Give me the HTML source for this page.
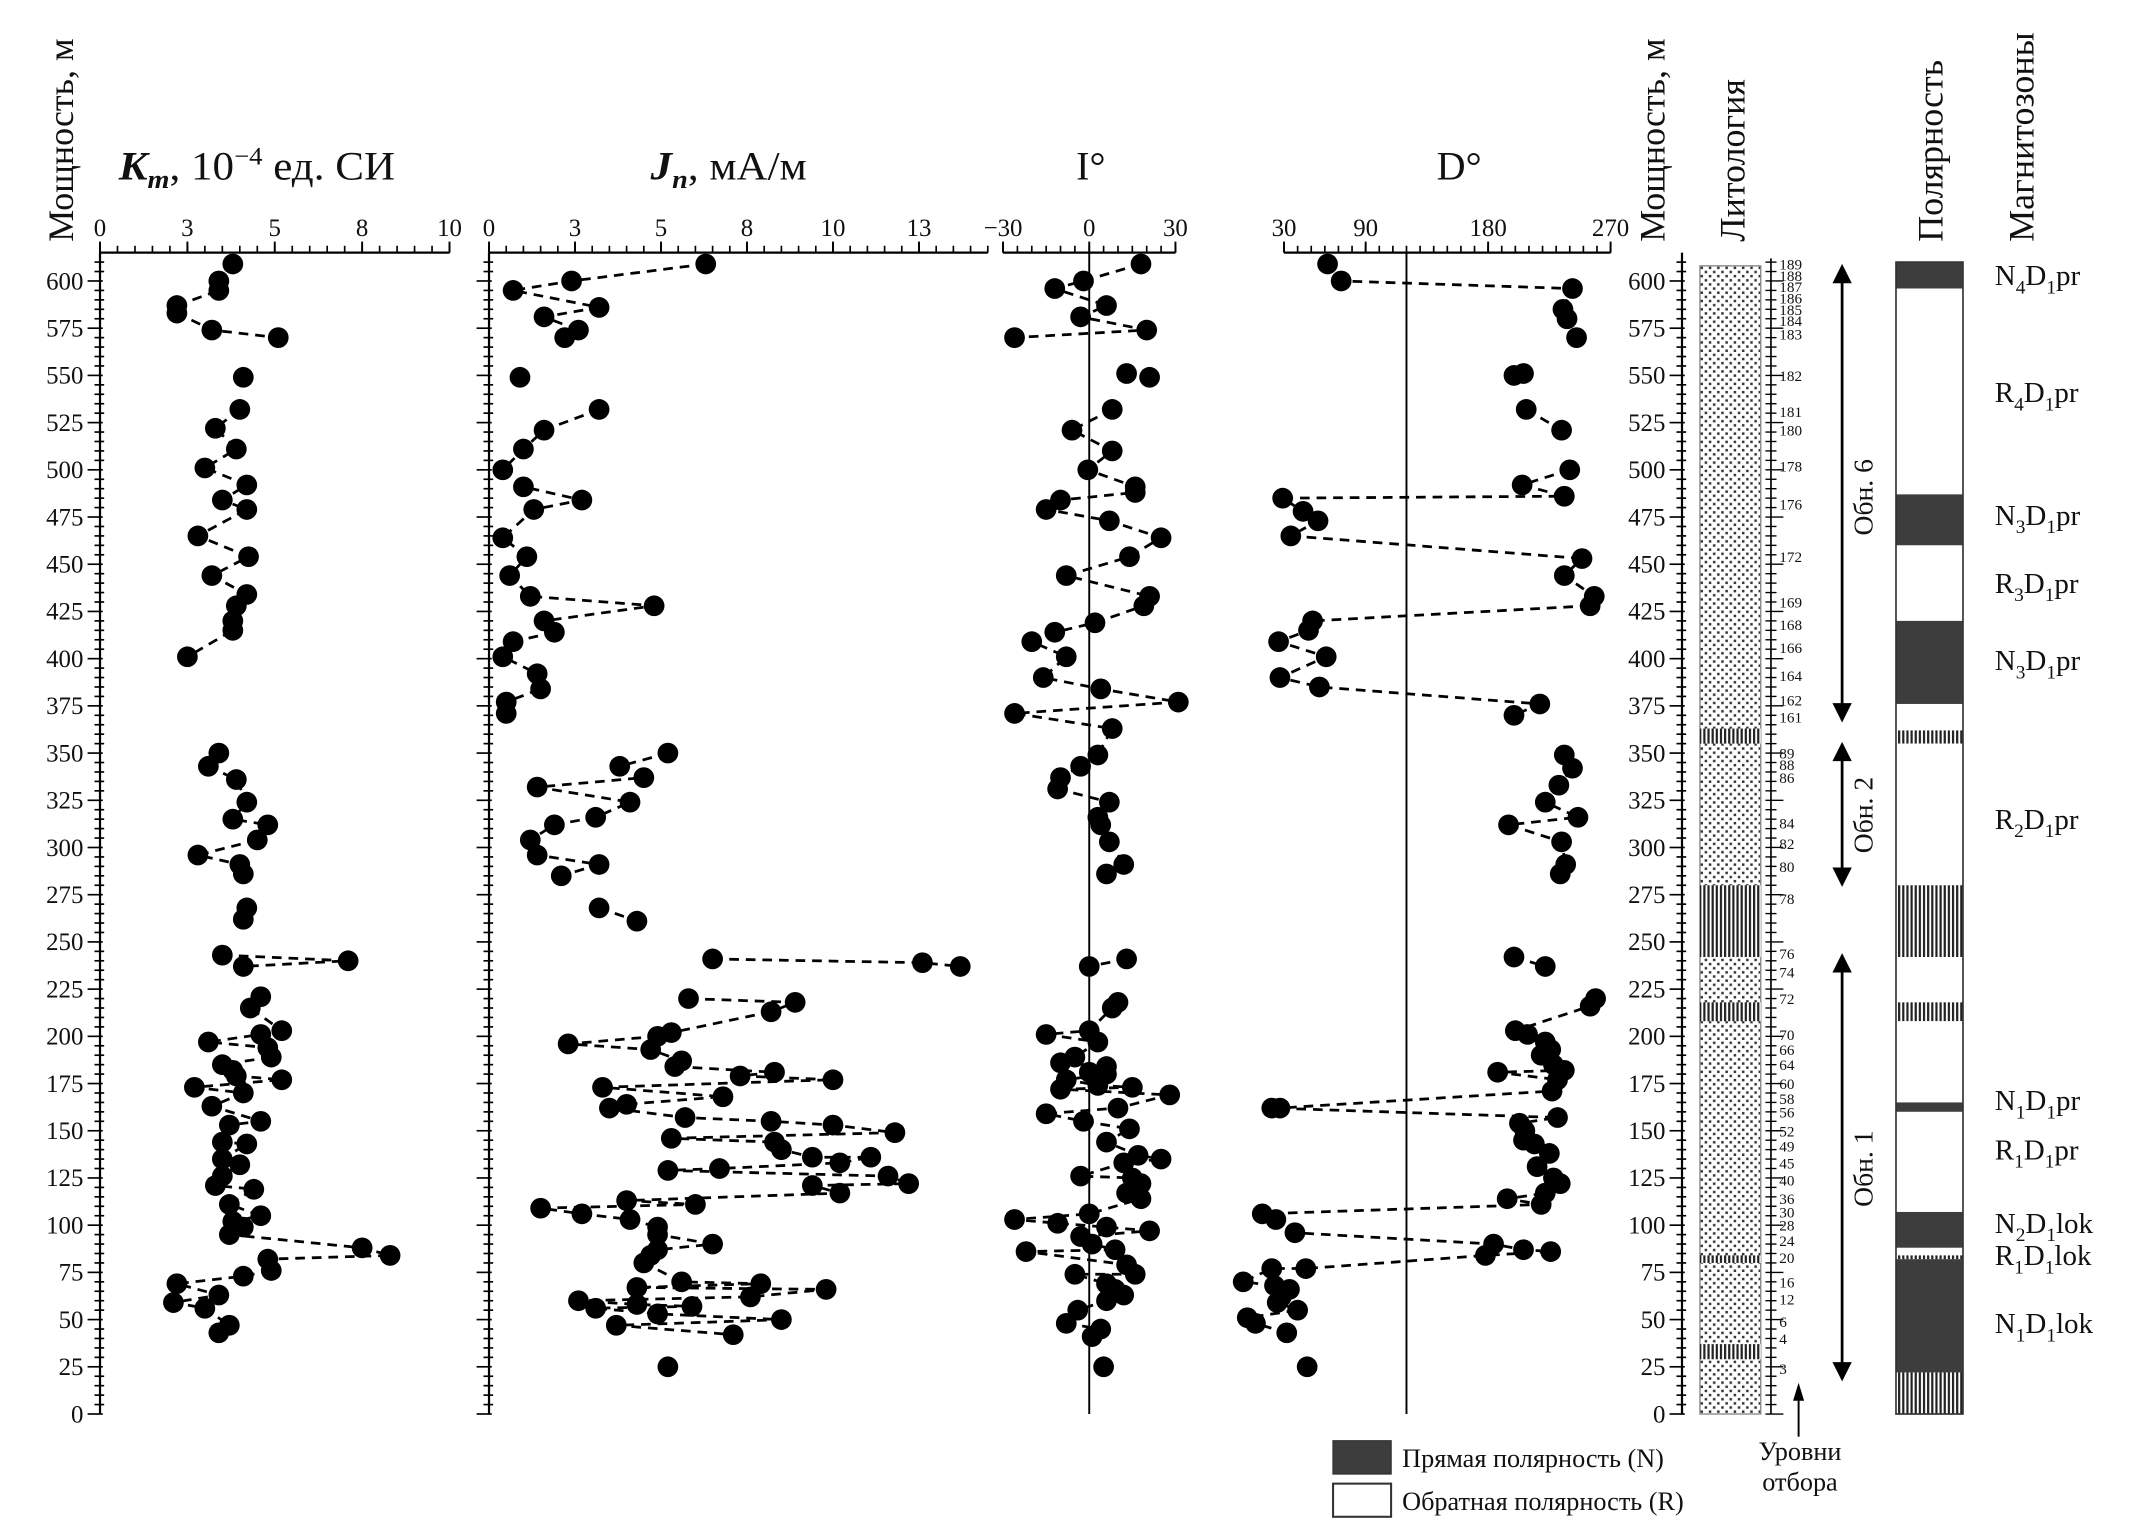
<!DOCTYPE html>
<html><head><meta charset="utf-8"><style>
html,body{margin:0;padding:0;background:#fff}
svg{display:block}
text{font-family:"Liberation Serif","DejaVu Serif",serif;fill:#111}
</style></head><body>
<svg id="chart" width="2155" height="1523" viewBox="0 0 1560 1102.5" xmlns="http://www.w3.org/2000/svg">
<defs>
<pattern id="dots" width="6" height="6" patternUnits="userSpaceOnUse"><rect width="6" height="6" fill="#fff"/><rect x="1" y="1" width="1.8" height="1.8" fill="#333"/><rect x="4" y="4" width="1.8" height="1.8" fill="#333"/></pattern>
<pattern id="hatch" width="3" height="10" patternUnits="userSpaceOnUse"><rect width="3" height="10" fill="#fff"/><rect x="0" width="1.6" height="10" fill="#222"/></pattern>
</defs>
<g id="root"></g>
</svg>
<script>
// ---- data ----
const kmDepth=[609,600,595,587,583,574,570,549,532,522,511,501,492,484,479,465,454,444,434,428,420,415,401,350,343,336,324,315,312,304,296,291,286,268,262,243,240,237,221,215,203,201,197,194,189,185,182,179,177,173,170,163,155,153,144,143,135,132,126,121,119,111,105,102,99,95,88,84,82,76,73,69,63,59,56,47,43];
const kmValue=[3.8,3.4,3.4,2.2,2.2,3.2,5.1,4.1,4.0,3.3,3.9,3.0,4.2,3.5,4.2,2.8,4.25,3.2,4.2,3.9,3.8,3.8,2.5,3.4,3.1,3.9,4.2,3.8,4.8,4.5,2.8,4.0,4.1,4.2,4.1,3.5,7.1,4.1,4.6,4.3,5.2,4.6,3.1,4.8,4.9,3.5,3.8,3.9,5.2,2.7,4.1,3.2,4.6,3.7,3.5,4.2,3.5,4.0,3.5,3.3,4.4,3.7,4.6,3.8,4.1,3.7,7.5,8.3,4.8,4.9,4.1,2.2,3.4,2.1,3.0,3.7,3.4];
const jnDepth=[609,600,595,586,581,574,570,549,532,521,511,500,491,484,479,464,454,444,433,428,420,414,409,401,392,384,377,371,350,343,337,332,324,316,312,304,296,291,285,268,261,241,239,237,220,218,213,202,200,196,193,187,184,181,179,177,173,168,164,162,157,155,153,149,146,144,140,136,136,133,130,129,126,122,121,117,113,111,109,106,103,99,95,90,87,84,80,70,69,67,66,62,60,58,57,56,53,50,47,42,25];
const jnValue=[6.3,2.4,0.7,3.2,1.6,2.6,2.2,0.9,3.2,1.6,1.0,0.4,1.0,2.7,1.3,0.4,1.1,0.6,1.2,4.8,1.6,1.9,0.7,0.4,1.4,1.5,0.5,0.5,5.2,3.8,4.5,1.4,4.1,3.1,1.9,1.2,1.4,3.2,2.1,3.2,4.3,6.5,12.6,13.7,5.8,8.9,8.2,5.3,4.9,2.3,4.7,5.6,5.4,8.3,7.3,10.0,3.3,6.8,4.0,3.5,5.7,8.2,10.0,11.8,5.3,8.3,8.5,9.4,11.1,10.2,6.7,5.2,11.6,12.2,9.4,10.2,4.0,6.0,1.5,2.7,4.1,4.9,4.9,6.5,4.9,4.7,4.5,5.6,7.9,4.3,9.8,7.6,2.6,4.3,5.9,3.1,4.9,8.5,3.7,7.1,5.2];
const incDepth=[609,600,596,587,581,574,570,551,549,532,521,510,500,491,488,484,479,473,464,454,444,433,428,419,414,409,401,390,384,377,371,363,349,343,337,331,324,316,312,303,291,286,241,237,218,215,203,201,197,189,186,184,181,180,177,174,173,172,169,162,159,155,151,144,137,135,133,126,125,122,117,114,106,103,101,99,97,94,90,87,86,79,74,74,69,66,63,60,55,48,45,41,25];
const incValue=[18,-2,-12,6,-3,20,-26,13,21,8,-6,8,-0.5,16,16,-10,-15,7,25,14,-8,21,19,2,-12,-20,-8,-16,4,31,-26,8,3,-3,-10,-11,7,3,4,7,12,6,13,0,10,8,0,-15,3,-5,-10,6,0,6,-8,3,15,-10,28,10,-15,-2,14,6,17,25,12,-3,15,18,13,18,0,-26,-11,6,21,-3,1,9,-22,13,16,-5,6,9,12,6,-4,-8,4,1,5];
const decDepth=[609,600,596,585,580,570,551,550,532,521,500,492,486,485,478,473,465,453,444,433,428,420,415,409,401,390,385,376,370,349,342,333,324,316,312,303,291,286,242,237,220,216,203,201,197,193,190,185,182,181,177,171,162,162,157,154,150,145,143,138,131,125,122,117,114,111,106,103,96,90,87,86,84,77,77,70,68,66,62,59,55,51,48,43,25];
const decValue=[62,72,242,235,238,245,206,199,208,234,240,205,236,29,44,55,35,249,236,258,255,51,48,26,61,27,56,218,199,236,242,232,222,246,195,234,237,233,199,222,259,255,200,209,222,226,219,228,236,187,231,227,27,21,231,203,207,206,214,225,216,228,233,222,194,219,14,24,38,184,206,226,178,46,21,0,23,34,28,25,40,3,9,32,47];
const polTop=[610,596,487,460,420,376,362,355,280,242,218,208,165,160,107,88,84,82,22];
const polBot=[596,487,460,420,376,362,355,280,242,218,208,165,160,107,88,84,82,22,0];
const polType=["N","R","N","R","N","R","H","R","H","R","H","R","N","R","N","R","H","N","H"];
const lithHatchTop=[363,280,218,84,37];
const lithHatchBot=[355,242,208,80,29];
const levelLabels=["189","188","187","186","185","184","183","182","181","180","178","176","172","169","168","166","164","162","161","89","88","86","84","82","80","78","76","74","72","70","66","64","60","58","56","52","49","45","40","36","30","28","24","20","16","12","6","4","3"];
const levelDepths=[609,603,597,591,585,579,572,550,531,521,502,482,454,430,418,406,391,378,369,350,344,337,313,302,290,273,244,234,220,201,193,185,175,167,160,150,142,133,124,114,107,100,92,83,70,61,49,40,24];
const zoneNames=[["N","4","pr"],["R","4","pr"],["N","3","pr"],["R","3","pr"],["N","3","pr"],["R","2","pr"],["N","1","pr"],["R","1","pr"],["N","2","lok"],["R","1","lok"],["N","1","lok"]];
const zoneDepths=[603,541,476,440,399,315,166,140,101,84,48];

// ---- helpers ----
const NS="http://www.w3.org/2000/svg";
const root=document.getElementById('root');
function el(tag,attrs,parent){const e=document.createElementNS(NS,tag);for(const k in attrs)e.setAttribute(k,attrs[k]);(parent||root).appendChild(e);return e;}
const Y=d=>1023.6-d*1.367;
const xKm=v=>72.4+v*25.3;
const xJn=v=>354+v*24.9;
const xInc=v=>788.5+v*2.08;
const xDec=v=>929.5+(v-30)*0.985;
const AX=1217.6;

function depthAxis(x,labels,name){
  const g=el('g',{});
  
  
  el('line',{x1:x,y1:Y(615),x2:x,y2:Y(0),stroke:'#000','stroke-width':1.6},g);
  for(let d=0;d<=610;d+=5){
    const maj=d%25===0;
    el('line',{x1:x-(maj?9:4),y1:Y(d),x2:x+(maj?2:3),y2:Y(d),stroke:'#000','stroke-width':1.2},g);
    if(maj&&labels){const t=el('text',{x:x-12,y:Y(d)+6,'font-size':18,'text-anchor':'end'},g);t.textContent=d;}
  }
}
function topAxis(x0,x1,ticks,majors,labels,name){
  const g=el('g',{});
  
  
  const ya=Y(615);
  el('line',{x1:x0,y1:ya,x2:x1,y2:ya,stroke:'#000','stroke-width':1.6},g);
  ticks.forEach(x=>el('line',{x1:x,y1:ya-5,x2:x,y2:ya,stroke:'#000','stroke-width':1.2},g));
  majors.forEach((x,i)=>{el('line',{x1:x,y1:ya-8,x2:x,y2:ya,stroke:'#000','stroke-width':1.4},g);const t=el('text',{x:x,y:ya-12,'font-size':18,'text-anchor':'middle'},g);t.textContent=labels[i];});
}
function series(depths,values,xf,name){
  const g=el('g',{});
  
  
  let d='';
  for(let i=0;i<depths.length;i++){
    const px=xf(values[i]).toFixed(1),py=Y(depths[i]).toFixed(1);
    if(i>0&&Math.abs(depths[i-1]-depths[i])<16)d+=`L${px},${py}`;else d+=`M${px},${py}`;
  }
  el('path',{d:d,fill:'none',stroke:'#000','stroke-width':2,'stroke-dasharray':'7,5'},g);
  for(let i=0;i<depths.length;i++){
    const c=el('circle',{cx:xf(values[i]),cy:Y(depths[i]),r:7.5,fill:'#000'},g);
    
    
  }
}
function txt(x,y,s,size,attrs,name){const t=el('text',Object.assign({x:x,y:y,'font-size':size},attrs||{}));t.textContent=s;return t;}

// ---- axes ----
depthAxis(72.4,true,'km-depth-axis');
depthAxis(354,false,'jn-depth-axis');
depthAxis(AX,true,'section-depth-axis');
let tk=[];for(let v=0;v<=10.001;v+=0.5)tk.push(xKm(v));
topAxis(xKm(0),xKm(10),tk,[0,2.5,5,7.5,10].map(xKm),["0","3","5","8","10"],'km-top-axis');
tk=[];for(let v=0;v<=14.5;v+=0.5)tk.push(xJn(v));
topAxis(xJn(0),xJn(14.5),tk,[0,2.5,5,7.5,10,12.5].map(xJn),["0","3","5","8","10","13"],'jn-top-axis');
tk=[];for(let v=-30;v<=30;v+=5)tk.push(xInc(v));
topAxis(xInc(-30),xInc(30),tk,[-30,0,30].map(xInc),["\u221230","0","30"],'inclination-top-axis');
el('line',{x1:xInc(0),y1:Y(615),x2:xInc(0),y2:Y(0),stroke:'#000','stroke-width':1.4});
tk=[];for(let v=30;v<=270;v+=10)tk.push(xDec(v));
topAxis(xDec(30),xDec(270),tk,[30,90,180,270].map(xDec),["30","90","180","270"],'declination-top-axis');
el('line',{x1:xDec(120),y1:Y(615),x2:xDec(120),y2:Y(0),stroke:'#000','stroke-width':1.4});

// ---- series ----
series(kmDepth,kmValue,xKm,'km-series');
series(jnDepth,jnValue,xJn,'jn-series');
series(incDepth,incValue,xInc,'inclination-series');
series(decDepth,decValue,xDec,'declination-series');

// ---- headers ----
const h1=txt(86,130,'',29,{textLength:200,lengthAdjust:'spacingAndGlyphs'},'km-title');
h1.innerHTML='<tspan font-weight="bold" font-style="italic">K</tspan><tspan font-weight="bold" font-style="italic" font-size="19" dy="6">m</tspan><tspan dy="-6">, 10</tspan><tspan font-size="18" dy="-11">\u22124</tspan><tspan dy="11"> ед. СИ</tspan>';
const h2=txt(471,130,'',29,{textLength:113,lengthAdjust:'spacingAndGlyphs'},'jn-title');
h2.innerHTML='<tspan font-weight="bold" font-style="italic">J</tspan><tspan font-weight="bold" font-style="italic" font-size="19" dy="6">n</tspan><tspan dy="-6">, мА/м</tspan>';
txt(779,130,'I°',29,{},'inclination-title');
txt(1040,130,'D°',29,{},'declination-title');
txt(0,0,'Мощность, м',26,{transform:'translate(53,175) rotate(-90)'},'depth-title-left');
txt(0,0,'Мощность, м',26,{transform:'translate(1205,175) rotate(-90)'},'depth-title-right');
txt(0,0,'Литология',26,{transform:'translate(1263,175) rotate(-90)'},'lithology-title');
txt(0,0,'Полярность',26,{transform:'translate(1406,175) rotate(-90)'},'polarity-title');
txt(0,0,'Магнитозоны',26,{transform:'translate(1472,175) rotate(-90)'},'magnetozones-title');

// ---- lithology ----
const lr=el('rect',{x:1230.6,y:Y(608),width:44,height:Y(0)-Y(608),fill:'url(#dots)',stroke:'#888','stroke-width':1});


for(let i=0;i<lithHatchTop.length;i++){
  const r=el('rect',{x:1230.6,y:Y(lithHatchTop[i]),width:44,height:Y(lithHatchBot[i])-Y(lithHatchTop[i]),fill:'url(#hatch)'});
  
  
}
el('line',{x1:1282,y1:Y(612),x2:1282,y2:Y(0),stroke:'#000','stroke-width':1.2});
for(let d=0;d<=610;d+=5){const m=d%25===0;el('line',{x1:1278,y1:Y(d),x2:m?1291:1286,y2:Y(d),stroke:'#000','stroke-width':1});}
for(let i=0;i<levelLabels.length;i++){txt(1288,Y(levelDepths[i])+4,levelLabels[i],11,{},'sample-level-label');}
function arrow(yt,yb,label,ly){
  const x=1333.5;
  el('line',{x1:x,y1:yt+12,x2:x,y2:yb-12,stroke:'#000','stroke-width':2});
  el('path',{d:`M${x-7},${yt+14} L${x},${yt} L${x+7},${yt+14} z`,fill:'#000'});
  el('path',{d:`M${x-7},${yb-14} L${x},${yb} L${x+7},${yb-14} z`,fill:'#000'});
  txt(0,0,label,20,{transform:`translate(${x+22},${ly}) rotate(-90)`,'text-anchor':'middle'},'outcrop-label');
}
arrow(191,523,'Обн. 6',360);
arrow(537,642,'Обн. 2',590);
arrow(690,1000,'Обн. 1',846);

// ---- polarity column ----
for(let i=0;i<polTop.length;i++){
  const f=polType[i]==='N'?'#3d3d3d':(polType[i]==='H'?'url(#hatch)':'#fff');
  const r=el('rect',{x:1372.5,y:Y(polTop[i]),width:48.5,height:Y(polBot[i])-Y(polTop[i]),fill:f});
  
  
}
el('rect',{x:1372.5,y:Y(610),width:48.5,height:Y(0)-Y(610),fill:'none',stroke:'#333','stroke-width':1.2});
for(let i=0;i<zoneNames.length;i++){
  const t=txt(1444,Y(zoneDepths[i])+7,'',21,{},'magnetozone-label');
  t.innerHTML=`${zoneNames[i][0]}<tspan font-size="14" dy="6">${zoneNames[i][1]}</tspan><tspan dy="-6">D</tspan><tspan font-size="14" dy="6">1</tspan><tspan dy="-6">${zoneNames[i][2]}</tspan>`;
}

// ---- legend ----
const lg=el('g',{});


el('rect',{x:965,y:1043,width:42,height:24,fill:'#3d3d3d',stroke:'#333'},lg);
el('rect',{x:965,y:1074,width:42,height:24,fill:'#fff',stroke:'#333','stroke-width':1.5},lg);
txt(1015,1062,'Прямая полярность (N)',19,{},'legend-normal');
txt(1015,1093,'Обратная полярность (R)',19,{},'legend-reverse');
txt(1303,1057,'Уровни',19,{'text-anchor':'middle'},'levels-label');
txt(1303,1079,'отбора',19,{'text-anchor':'middle'},'levels-label-2');
el('line',{x1:1302,y1:1040,x2:1302,y2:1012,stroke:'#000','stroke-width':1.4});
el('path',{d:'M1298,1014 L1302,1001 L1306,1014 z',fill:'#000'});
</script>
</body></html>
